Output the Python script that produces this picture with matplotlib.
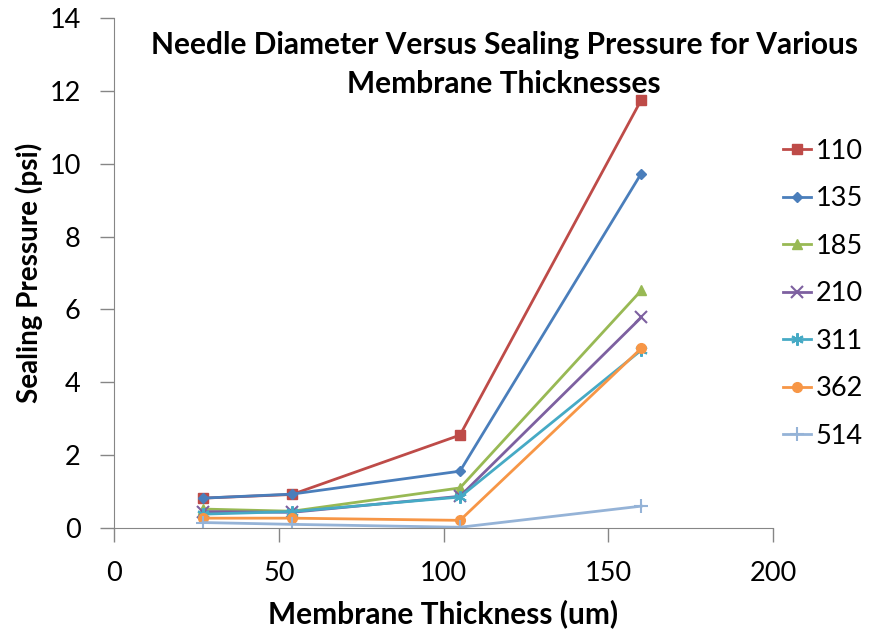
import matplotlib.pyplot as plt

thickness = [27, 54, 105, 160]
series_names = ['110', '135', '185', '210', '311', '362', '514']
p110 = [0.82, 0.92, 2.55, 11.75]
p135 = [0.82, 0.93, 1.56, 9.73]
p185 = [0.52, 0.46, 1.10, 6.52]
p210 = [0.45, 0.43, 0.87, 5.78]
p311 = [0.38, 0.45, 0.85, 4.88]
p362 = [0.27, 0.27, 0.21, 4.93]
p514 = [0.15, 0.10, 0.02, 0.60]

colors = ['#BE4B48', '#4A7EBB', '#98B954', '#7D60A0', '#46AAC5', '#F79646', '#95B3D7']
markers = ['s', 'D', '^', 'x', (6, 2, 0), 'o', '+']
sizes = [7, 5, 7, 9, 9, 7, 10]

plt.rcParams['font.family'] = ['Lato', 'DejaVu Sans']

fig = plt.figure(figsize=(8.71, 6.34), dpi=100)
ax = fig.add_axes([0.1309, 0.1672, 0.7566, 0.8044])

for name, vals, c, m, s in zip(series_names, [p110, p135, p185, p210, p311, p362, p514],
                               colors, markers, sizes):
    thin = m in ('x', '+') or isinstance(m, tuple)
    ax.plot(thickness, vals, color=c, marker=m, markersize=s, linewidth=2,
            markeredgewidth=1.5 if thin else 1, label=name)

ax.set_xlim(0, 200)
ax.set_ylim(0, 14)
ax.set_xticks([0, 50, 100, 150, 200])
ax.set_yticks(range(0, 15, 2))
for side in ('top', 'right'):
    ax.spines[side].set_visible(False)
for side in ('left', 'bottom'):
    ax.spines[side].set_color('#868686')
ax.tick_params(colors='#868686', labelcolor='black', labelsize=19.5, length=10, width=1, pad=14)
ax.set_xlabel('Membrane Thickness (um)', fontsize=21.5, fontweight='bold')
ax.set_ylabel('Sealing Pressure (psi)', fontsize=20, fontweight='bold')
ax.xaxis.set_label_coords(0.5, -0.14)
ax.yaxis.set_label_coords(-0.108, 0.5)

ax.text(0.592, 0.975, 'Needle Diameter Versus Sealing Pressure for Various\nMembrane Thicknesses',
        transform=ax.transAxes, ha='center', va='top', fontsize=21.5, fontweight='bold',
        linespacing=1.5)

fig.legend(loc='upper left', bbox_to_anchor=(0.899, 0.781), frameon=False, fontsize=19.5,
           handlelength=1.05, handletextpad=0.15, labelspacing=0.83, borderaxespad=0,
           borderpad=0)

fig.savefig('out.png')
